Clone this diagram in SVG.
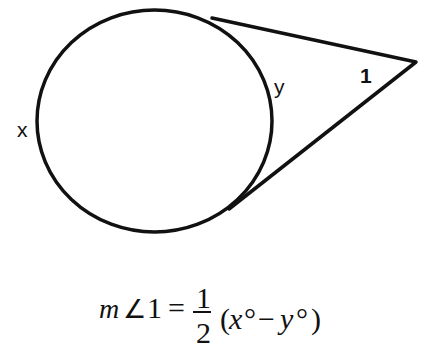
<svg xmlns="http://www.w3.org/2000/svg" width="423" height="349" viewBox="0 0 423 349">
<style>
.s{fill:none;stroke:#111;stroke-width:3.5;stroke-linejoin:round;stroke-linecap:round}
.lbl{font-family:"Liberation Sans",Arial,sans-serif;font-size:21px;fill:#111}
.f{font-family:"Liberation Serif","Times New Roman",serif;font-size:30px;fill:#111}
.i{font-style:italic}
</style>
<rect width="423" height="349" fill="#fff"/>
<g id="circle">
<ellipse class="s" cx="154.5" cy="121" rx="117.5" ry="111"/>
</g>
<g id="connectors">
<path class="s" d="M212,18 L416,62 L229,209"/>
</g>
<g id="labels">
<text class="lbl" x="17" y="137">x</text>
<text class="lbl" x="274" y="94">y</text>
<text class="lbl" x="360" y="83" font-weight="bold">1</text>
</g>
<g id="formula">
<text class="f" y="318"><tspan class="i" x="99" font-size="28">m</tspan><tspan x="123" font-size="26">∠</tspan><tspan x="147">1</tspan></text>
<text class="f" x="168" y="318" font-size="28">=</text>
<text class="f" x="196" y="308" font-size="24">1</text>
<line x1="193" y1="312" x2="211" y2="312" stroke="#111" stroke-width="2"/>
<text class="f" x="196" y="343" font-size="25">2</text>
<text class="f" y="329"><tspan x="220">(</tspan><tspan class="i" x="229">x</tspan><tspan x="244">°</tspan><tspan x="258">−</tspan><tspan class="i" x="280">y</tspan><tspan x="296">°</tspan><tspan x="311">)</tspan></text>
</g>
</svg>
